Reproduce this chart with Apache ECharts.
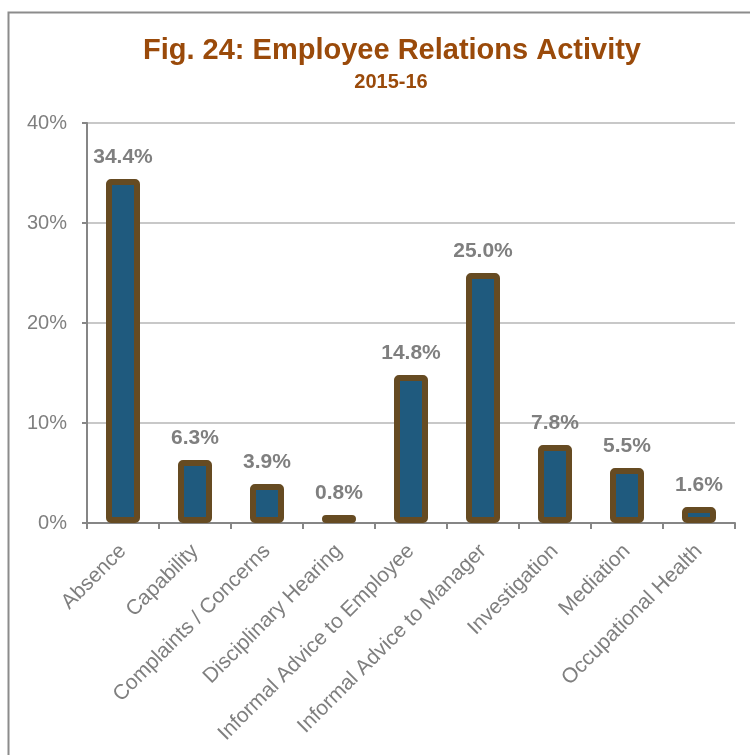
<!DOCTYPE html>
<html>
<head>
<meta charset="utf-8">
<script src="https://cdn.jsdelivr.net/npm/echarts@6/dist/echarts.min.js"></script>
<style>
  html, body { margin: 0; padding: 0; background: #ffffff; }
  #chart { width: 750px; height: 755px; }
</style>
</head>
<body>
<div id="chart"></div>
<script>
// Employee relations activity, share of cases by type (2015-16)
var categories = [
  'Absence',
  'Capability',
  'Complaints / Concerns',
  'Disciplinary Hearing',
  'Informal Advice to Employee',
  'Informal Advice to Manager',
  'Investigation',
  'Mediation',
  'Occupational Health'
];
var sharePct = [34.4, 6.3, 3.9, 0.8, 14.8, 25.0, 7.8, 5.5, 1.6];
var yTicks = [0, 10, 20, 30, 40];

var titleText = 'Fig. 24: Employee Relations Activity';
var subtitleText = '2015-16';

var chart = echarts.init(document.getElementById('chart'), null, { renderer: 'canvas' });

var axisGray = '#868686';
var textGray = '#7f7f7f';
var fontFamily = '"Liberation Sans", Arial, sans-serif';

chart.setOption({
  backgroundColor: '#ffffff',
  animation: false,
  title: [
    {
      text: titleText,
      left: 387,
      top: 31,
      textAlign: 'center',
      textStyle: { fontFamily: fontFamily, fontSize: 29, fontWeight: 'bold', color: '#9A4A0A' }
    },
    {
      text: subtitleText,
      left: 386,
      top: 67,
      textAlign: 'center',
      textStyle: { fontFamily: fontFamily, fontSize: 20, fontWeight: 'bold', color: '#9A4A0A' }
    }
  ],
  graphic: [
    {
      type: 'rect',
      silent: true,
      shape: { x: 8.5, y: 12.5, width: 800, height: 800 },
      style: { fill: 'none', stroke: '#8c8c8c', lineWidth: 2 }
    }
  ],
  grid: { left: 87, right: 15, top: 123, bottom: 232, containLabel: false },
  xAxis: {
    type: 'category',
    data: categories,
    boundaryGap: true,
    axisLine: { lineStyle: { color: axisGray, width: 2 } },
    axisTick: { show: true, length: 6, alignWithLabel: false, lineStyle: { color: axisGray, width: 2 } },
    axisLabel: {
      rotate: 45,
      interval: 0,
      margin: 25,
      fontFamily: fontFamily,
      fontSize: 21,
      color: textGray
    },
    splitLine: { show: false }
  },
  yAxis: {
    type: 'value',
    min: yTicks[0],
    max: yTicks[yTicks.length - 1],
    interval: 10,
    axisLine: { show: true, lineStyle: { color: axisGray, width: 2 } },
    axisTick: { show: true, length: 5, lineStyle: { color: axisGray, width: 2 } },
    axisLabel: {
      formatter: '{value}%',
      margin: 20,
      fontFamily: fontFamily,
      fontSize: 20,
      color: textGray
    },
    splitLine: { show: true, lineStyle: { color: '#c8c8c8', width: 2 } }
  },
  series: [
    {
      type: 'bar',
      data: sharePct,
      barWidth: 34,
      itemStyle: {
        color: '#1F5A7E',
        borderColor: '#664B22',
        borderWidth: 6,
        borderRadius: 2
      },
      label: {
        show: true,
        position: 'top',
        distance: 11,
        formatter: function (p) { return p.value.toFixed(1) + '%'; },
        fontFamily: fontFamily,
        fontSize: 21,
        fontWeight: 'bold',
        color: textGray
      }
    }
  ]
});
</script>
</body>
</html>
